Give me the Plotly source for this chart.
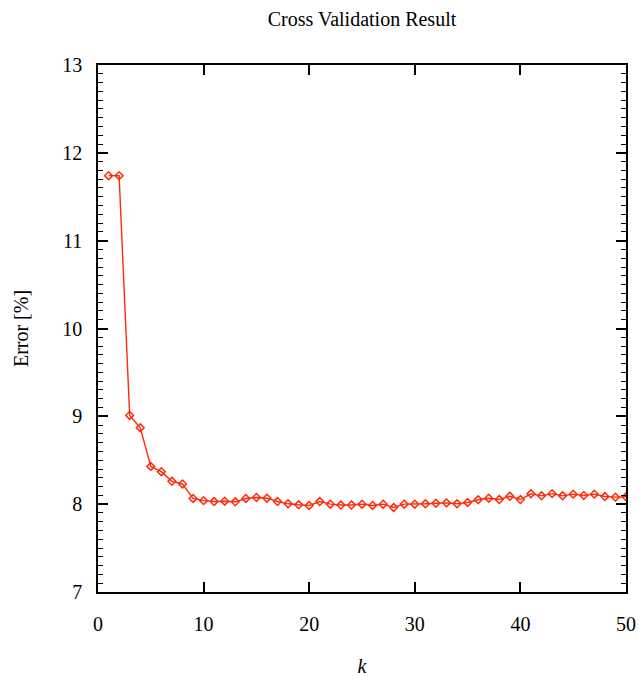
import plotly.graph_objects as go

# Number of folds / neighbours k and the cross-validated error rate (%)
k_values = list(range(1, 51))
error_pct = [
    11.74, 11.74, 9.01, 8.87, 8.43, 8.37, 8.26, 8.23, 8.065, 8.04,
    8.03, 8.034, 8.027, 8.065, 8.076, 8.068, 8.03, 8.004, 7.993, 7.985,
    8.03, 8.0, 7.99, 7.99, 8.0, 7.985, 8.0, 7.962, 8.0, 8.0,
    8.004, 8.011, 8.015, 8.004, 8.019, 8.05, 8.068, 8.053, 8.09, 8.053,
    8.118, 8.095, 8.12, 8.095, 8.114, 8.099, 8.114, 8.087, 8.08, 8.084,
]

x_ticks = [0, 10, 20, 30, 40, 50]
y_ticks = [7, 8, 9, 10, 11, 12, 13]

LINE_COLOR = "#ff2a0a"
FONT = "Liberation Serif, Times New Roman, serif"
FONT_SIZE = 20

ML, MR, MT, MB = 98, 13, 65, 85
W, H = 639, 677

fig = go.Figure()
fig.add_trace(go.Scatter(
    x=k_values,
    y=error_pct,
    mode="lines+markers",
    line=dict(color=LINE_COLOR, width=1.4),
    marker=dict(symbol="diamond-open", size=6, color=LINE_COLOR,
                line=dict(color=LINE_COLOR, width=1.5)),
    showlegend=False,
))

fig.update_layout(
    width=W,
    height=H,
    paper_bgcolor="white",
    plot_bgcolor="white",
    margin=dict(l=ML, r=MR, t=MT, b=MB, autoexpand=False),
    font=dict(family=FONT, size=FONT_SIZE, color="black"),
    title=dict(
        text="Cross Validation Result",
        x=(ML + (W - MR)) / 2 / W,
        xanchor="center",
        xref="container",
        y=1 - 19 / H,
        yanchor="middle",
        yref="container",
        font=dict(family=FONT, size=FONT_SIZE, color="black"),
    ),
)

fig.update_xaxes(
    range=[0, 50],
    tickvals=x_ticks,
    ticktext=[str(v) for v in x_ticks],
    ticks="inside",
    ticklen=10,
    tickwidth=1.5,
    tickcolor="black",
    showline=True,
    linecolor="black",
    linewidth=1.6,
    mirror="allticks",
    showgrid=False,
    zeroline=False,
    automargin=False,
    ticklabelstandoff=13,
    title=dict(text="<i>k</i>", standoff=28, font=dict(family=FONT, size=FONT_SIZE)),
)

fig.update_yaxes(
    range=[7, 13],
    tickvals=y_ticks,
    ticktext=[str(v) for v in y_ticks],
    ticks="inside",
    ticklen=10,
    tickwidth=1.5,
    tickcolor="black",
    minor=dict(dtick=0.1, ticks="inside", ticklen=5, tickwidth=1.2,
               tickcolor="black", showgrid=False),
    showline=True,
    linecolor="black",
    linewidth=1.6,
    mirror="allticks",
    showgrid=False,
    zeroline=False,
    automargin=False,
    ticklabelstandoff=10,
    title=dict(text="Error [%]", standoff=28, font=dict(family=FONT, size=FONT_SIZE)),
)

fig.write_html("out.html")
